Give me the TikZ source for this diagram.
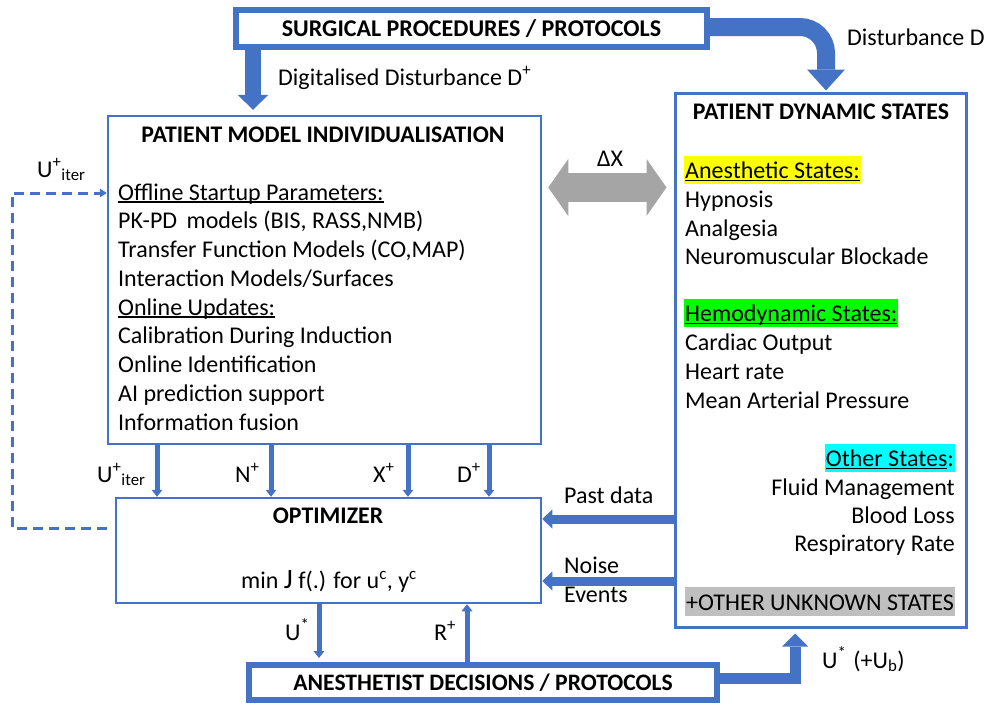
\documentclass[tikz,border=0pt]{standalone}
\usepackage{fontspec}
\setmainfont{Carlito}
\usetikzlibrary{arrows.meta}
\definecolor{myblue}{HTML}{4472C4}
\definecolor{dxgray}{HTML}{A5A5A5}
\definecolor{hlgray}{HTML}{BFBFBF}
\definecolor{hlyellow}{HTML}{FFFF00}
\definecolor{hlgreen}{HTML}{00FF00}
\definecolor{hlcyan}{HTML}{00FFFF}
\newcommand\fs[1]{\fontsize{#1}{#1}\selectfont}
\newcommand\myul[1]{\sbox0{#1}\rlap{\rule[-2.6pt]{\wd0}{1.3pt}}\usebox0}
\begin{document}
\begin{tikzpicture}[x=1pt,y=-1pt,
  box/.style={draw=myblue, line width=2.5pt, inner sep=0pt},
  heavybox/.style={draw=myblue, line width=6pt, inner sep=0pt},
  txt/.style={inner sep=0pt, font=\fs{24}, anchor=base west},
  rtxt/.style={inner sep=0pt, font=\fs{24}, anchor=base east},
  ttl/.style={inner sep=0pt, font=\fs{23.8}\bfseries, anchor=base},
  hl/.style={fill=#1, inner xsep=1pt, inner ysep=0pt, text height=22.7pt, text depth=5.5pt, font=\fs{24}},
  thinarrow/.style={draw=myblue, line width=5pt, -{Triangle[width=11pt,length=7pt,line width=0pt]}},
  midarrow/.style={draw=myblue, line width=9pt, -{Triangle[width=19pt,length=10pt,line width=0pt]}},
]
\useasboundingbox (0,0) rectangle (986,707);

% boxes
\node[heavybox, minimum width=471pt, minimum height=37pt, font=\fs{24}\bfseries] (top) at (471.5,28.5) {SURGICAL PROCEDURES / PROTOCOLS};
\node[heavybox, minimum width=468pt, minimum height=35pt, font=\fs{23.6}\bfseries] (ane) at (483,682.5) {ANESTHETIST DECISIONS / PROTOCOLS};
\node[box, minimum width=433pt, minimum height=328pt] (pmi) at (324.5,280) {};
\node[box, line width=3pt, minimum width=291pt, minimum height=534pt] (pds) at (820.5,360) {};
\node[box, minimum width=425pt, minimum height=105pt] (opt) at (328.5,550.5) {};

% left box text
\node[ttl] (pmittl) at (323,142) {PATIENT MODEL INDIVIDUALISATION};
\node[txt] (p1) at (118,200) {\myul{Offline Startup Parameters:}};
\node[txt] (p2) at (118,228.75) {PK-PD\, models (BIS, RASS,NMB)};
\node[txt] (p3) at (118,257.5) {Transfer Function Models (CO,MAP)};
\node[txt] (p4) at (118,286.25) {Interaction Models/Surfaces};
\node[txt] (p5) at (118,315) {\myul{Online Updates:}};
\node[txt] (p6) at (118,343.75) {Calibration During Induction};
\node[txt] (p7) at (118,372.5) {Online Identification};
\node[txt] (p8) at (118,401.25) {AI prediction support};
\node[txt] (p9) at (118,430) {Information fusion};

% right box text
\node[ttl] (pdsttl) at (821,119.5) {PATIENT DYNAMIC STATES};
\node[hl=hlyellow, anchor=base west] (s1) at (684,178.3) {\myul{Anesthetic States:}};
\node[txt] (s2) at (685,207.3) {Hypnosis};
\node[txt] (s3) at (685,236) {Analgesia};
\node[txt] (s4) at (685,264.7) {Neuromuscular Blockade};
\node[hl=hlgreen, anchor=base west] (s5) at (684,321.7) {\myul{Hemodynamic States:}};
\node[txt] (s6) at (685,350.5) {Cardiac Output};
\node[txt] (s7) at (685,379.3) {Heart rate};
\node[txt] (s8) at (685,408) {Mean Arterial Pressure};
\node[hl=hlcyan, anchor=base east] (s9) at (955,466.7) {\myul{Other States}:};
\node[rtxt] (s10) at (955,495) {Fluid Management};
\node[rtxt] (s11) at (955,523.3) {Blood Loss};
\node[rtxt] (s12) at (955,551.7) {Respiratory Rate};
\node[hl=hlgray, anchor=base west] (s13) at (685,610) {+OTHER UNKNOWN STATES};

% optimizer text
\node[ttl] (optttl) at (328,523.5) {OPTIMIZER};
\node[txt, anchor=base] (optmin) at (329,588.3) {min {\fs{28}J} f(.) for u\textsuperscript{c}, y\textsuperscript{c}};

% big arrows
\draw[draw=myblue, line width=16pt, shorten >=5pt, -{Triangle[width=31pt,length=15pt,line width=0pt]}]
  (253,0 |- top.south) -- (253,0 |- pmi.north);
\draw[draw=myblue, line width=18pt, rounded corners=26pt, shorten >=1pt, -{Triangle[width=38pt,length=21pt,line width=0pt]}]
  (top.east |- 0,27) -| (826,0 |- pds.north);
\draw[draw=myblue, line width=11pt, shorten >=5pt, -{Triangle[width=26pt,length=13pt,line width=0pt]}]
  (ane.east |- 0,678.5) -| (795,0 |- pds.south);
\draw[draw=dxgray, line width=29pt, shorten <=6pt, shorten >=7pt,
  {Triangle[width=57pt,length=20pt,line width=0pt]}-{Triangle[width=57pt,length=20pt,line width=0pt]}]
  (pmi.east |- 0,187.5) -- (pds.west |- 0,187.5);

% thin arrows
\draw[thinarrow] (157,0 |- pmi.south) -- (157,0 |- opt.north);
\draw[thinarrow] (271,0 |- pmi.south) -- (271,0 |- opt.north);
\draw[thinarrow] (408,0 |- pmi.south) -- (408,0 |- opt.north);
\draw[thinarrow] (489,0 |- pmi.south) -- (489,0 |- opt.north);
\draw[thinarrow, shorten >=4pt] (319,0 |- opt.south) -- (319,0 |- ane.north);
\draw[thinarrow] (467,0 |- ane.north) -- (467,0 |- opt.south);
\draw[midarrow] (pds.west |- 0,519) -- (opt.east |- 0,519);
\draw[midarrow] (pds.west |- 0,581) -- (opt.east |- 0,581);

% dashed feedback
\draw[draw=myblue, line width=3pt, dash pattern=on 10pt off 6pt, shorten <=8pt,
  -{Triangle[width=9pt,length=7pt,line width=0pt]}]
  (opt.west |- 0,528) -- (12,528) -- (12,193) -- (pmi.west |- 0,193);

% labels
\node[txt] (ldig) at (278,85) {Digitalised Disturbance D\textsuperscript{+}};
\node[txt] (ldist) at (847,45) {Disturbance D};
\node[txt, anchor=base] (ldx) at (610,166.7) {ΔX};
\node[txt] (liter1) at (37,177) {U\textsuperscript{+}\textsubscript{iter}};
\node[txt] (liter2) at (97,482) {U\textsuperscript{+}\textsubscript{iter}};
\node[txt] (ln) at (235,482) {N\textsuperscript{+}};
\node[txt] (lx) at (373,482) {X\textsuperscript{+}};
\node[txt] (ld) at (457,482) {D\textsuperscript{+}};
\node[txt] (lpast) at (564,503.3) {Past data};
\node[txt] (lnoise) at (564,573.3) {Noise};
\node[txt] (lev) at (564,602.7) {Events};
\node[txt] (lu) at (285,640) {U\textsuperscript{*}};
\node[txt] (lr) at (434,640) {R\textsuperscript{+}};
\node[txt] (lub) at (822,668) {U\textsuperscript{*}\hspace{7pt}(+U\textsubscript{b})};
\end{tikzpicture}
\end{document}
